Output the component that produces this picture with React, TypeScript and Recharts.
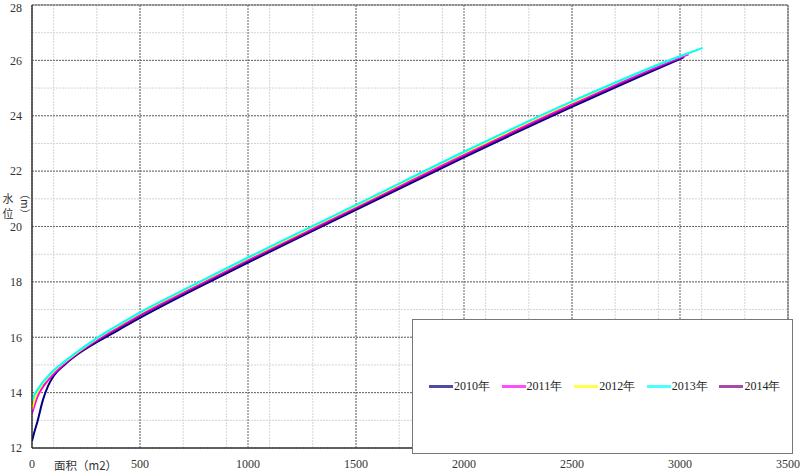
import React from "react";
import {
    LineChart,
    Line,
    XAxis,
    YAxis,
    CartesianGrid,
    Legend,
    Label,
    ReferenceArea,
} from "recharts";

// area (m2) sample points shared by all years; each year adds its own end point
const areas = [0, 10, 25, 50, 75, 100, 150, 200, 300, 400, 500, 750, 1000, 1250, 1500, 2000, 2500, 3000];
const years = ["2010年", "2011年", "2012年", "2013年", "2014年"];
const endAreas = [3015, 3040, 3080, 3105, 3020];

// water level (m), one value per area + end point
const level2010 = [12.25, 12.55, 12.95, 13.72, 14.25, 14.6, 15.0, 15.32, 15.82, 16.26, 16.7, 17.72, 18.7, 19.65, 20.6, 22.5, 24.32, 26.05, 26.1];
const level2011 = [13.25, 13.5, 13.85, 14.2, 14.45, 14.68, 15.05, 15.37, 15.9, 16.37, 16.82, 17.82, 18.8, 19.75, 20.7, 22.6, 24.42, 26.1, 26.22];
const level2012 = [13.4, 13.7, 14.0, 14.32, 14.55, 14.76, 15.1, 15.4, 15.95, 16.42, 16.87, 17.87, 18.85, 19.8, 20.75, 22.66, 24.48, 26.15, 26.37];
const level2013 = [13.7, 13.9, 14.1, 14.38, 14.6, 14.8, 15.12, 15.42, 15.97, 16.45, 16.9, 17.9, 18.88, 19.83, 20.78, 22.7, 24.52, 26.15, 26.45];
const level2014 = [13.5, 13.7, 13.95, 14.25, 14.48, 14.68, 15.03, 15.35, 15.87, 16.33, 16.78, 17.78, 18.76, 19.7, 20.66, 22.56, 24.38, 26.07, 26.13];

const levels = [level2010, level2011, level2012, level2013, level2014];
const colors = ["#000080", "#FF00FF", "#FFFF00", "#00FFFF", "#800080"];
// draw order: navy at the back, cyan on top
const drawOrder = [0, 4, 1, 2, 3];

const xTicks = [0, 500, 1000, 1500, 2000, 2500, 3000, 3500];
const yTicks = [12, 14, 16, 18, 20, 22, 24, 26, 28];
const xMinor = Array.from({ length: 36 }, (_, i) => i * 100);
const yMinor = Array.from({ length: 33 }, (_, i) => 12 + i * 0.5);

const serif = "'Liberation Serif', 'DejaVu Serif', serif";
const cjk = "'Noto Sans CJK SC', 'Noto Sans', sans-serif";

function seriesData(i: number) {
    const pts = areas.map((a, k) => ({ x: a, y: levels[i][k] }));
    pts.push({ x: endAreas[i], y: levels[i][areas.length] });
    return pts;
}

function XTitle({ viewBox }: any) {
    return (
        <text x={viewBox.x + 22} y={viewBox.y + 17} dominantBaseline="central" fontSize={11.5} fill="#333" fontFamily={cjk}>
            面积（m2）
        </text>
    );
}

function YTitle({ viewBox }: any) {
    const cx = viewBox.x + 8;
    return (
        <g fontFamily={cjk} fontSize={11} fill="#333">
            <text x={cx} y={198} textAnchor="middle" dominantBaseline="central">水</text>
            <text x={cx} y={213} textAnchor="middle" dominantBaseline="central">位</text>
            <text x={cx + 17} y={204} textAnchor="middle" dominantBaseline="central" transform={`rotate(90 ${cx + 17} 204)`} fontSize={10.5}>
                （m）
            </text>
        </g>
    );
}

function LegendBox({ payload }: any) {
    const items = [...(payload || [])].sort((a: any, b: any) => String(a.value).localeCompare(String(b.value)));
    return (
        <div style={{ display: "flex", alignItems: "center", height: "100%", paddingLeft: 16 }}>
            {items.map((p: any) => (
                <div key={p.value} style={{ width: 74, display: "flex", alignItems: "center" }}>
                    <span style={{ display: "inline-block", width: 24, height: 3, background: p.color, opacity: 0.7 }} />
                    <span style={{ fontFamily: serif, fontSize: 12, color: "#222", marginLeft: 1 }}>{p.value}</span>
                </div>
            ))}
        </div>
    );
}

export default function App() {
    return (
        <div style={{ position: "absolute", left: 0, top: 0, background: "#fff" }}>
            <LineChart width={800} height={472} margin={{ top: 5, right: 12, left: 0, bottom: 0 }}>
                <CartesianGrid
                    verticalValues={xMinor}
                    horizontalValues={yMinor}
                    stroke="#d4d4d4"
                    strokeDasharray="2 1"
                />
                <CartesianGrid
                    verticalValues={xTicks}
                    horizontalValues={yTicks}
                    stroke="#666"
                    strokeDasharray="2 1"
                />
                <XAxis
                    type="number"
                    dataKey="x"
                    domain={[0, 3500]}
                    ticks={xTicks}
                    allowDataOverflow
                    height={24}
                    tickLine={false}
                    tickSize={6}
                    tickMargin={5}
                    axisLine={{ stroke: "#222" }}
                    tick={{ fontSize: 12, fill: "#333", fontFamily: serif }}
                >
                    <Label content={<XTitle />} />
                </XAxis>
                <YAxis
                    type="number"
                    domain={[12, 28]}
                    ticks={yTicks}
                    width={32}
                    tickLine={false}
                    tickSize={6}
                    tickMargin={4}
                    axisLine={{ stroke: "#222" }}
                    tick={{ fontSize: 12, fill: "#333", fontFamily: serif }}
                >
                    <Label content={<YTitle />} />
                </YAxis>
                <ReferenceArea x1={0} x2={3500} y1={12} y2={28} fill="none" stroke="#777" strokeWidth={1} ifOverflow="visible" />
                {drawOrder.map((i) => (
                    <Line
                        key={years[i]}
                        data={seriesData(i)}
                        dataKey="y"
                        name={years[i]}
                        type="monotone"
                        stroke={colors[i]}
                        strokeWidth={2}
                        dot={false}
                        isAnimationActive={false}
                    />
                ))}
                <Legend
                    layout="horizontal"
                    verticalAlign="middle"
                    align="center"
                    content={<LegendBox />}
                    wrapperStyle={{
                        left: 412,
                        top: 319,
                        width: 381,
                        height: 135,
                        border: "1px solid #777",
                        background: "#fff",
                        boxSizing: "border-box",
                    }}
                />
            </LineChart>
        </div>
    );
}
